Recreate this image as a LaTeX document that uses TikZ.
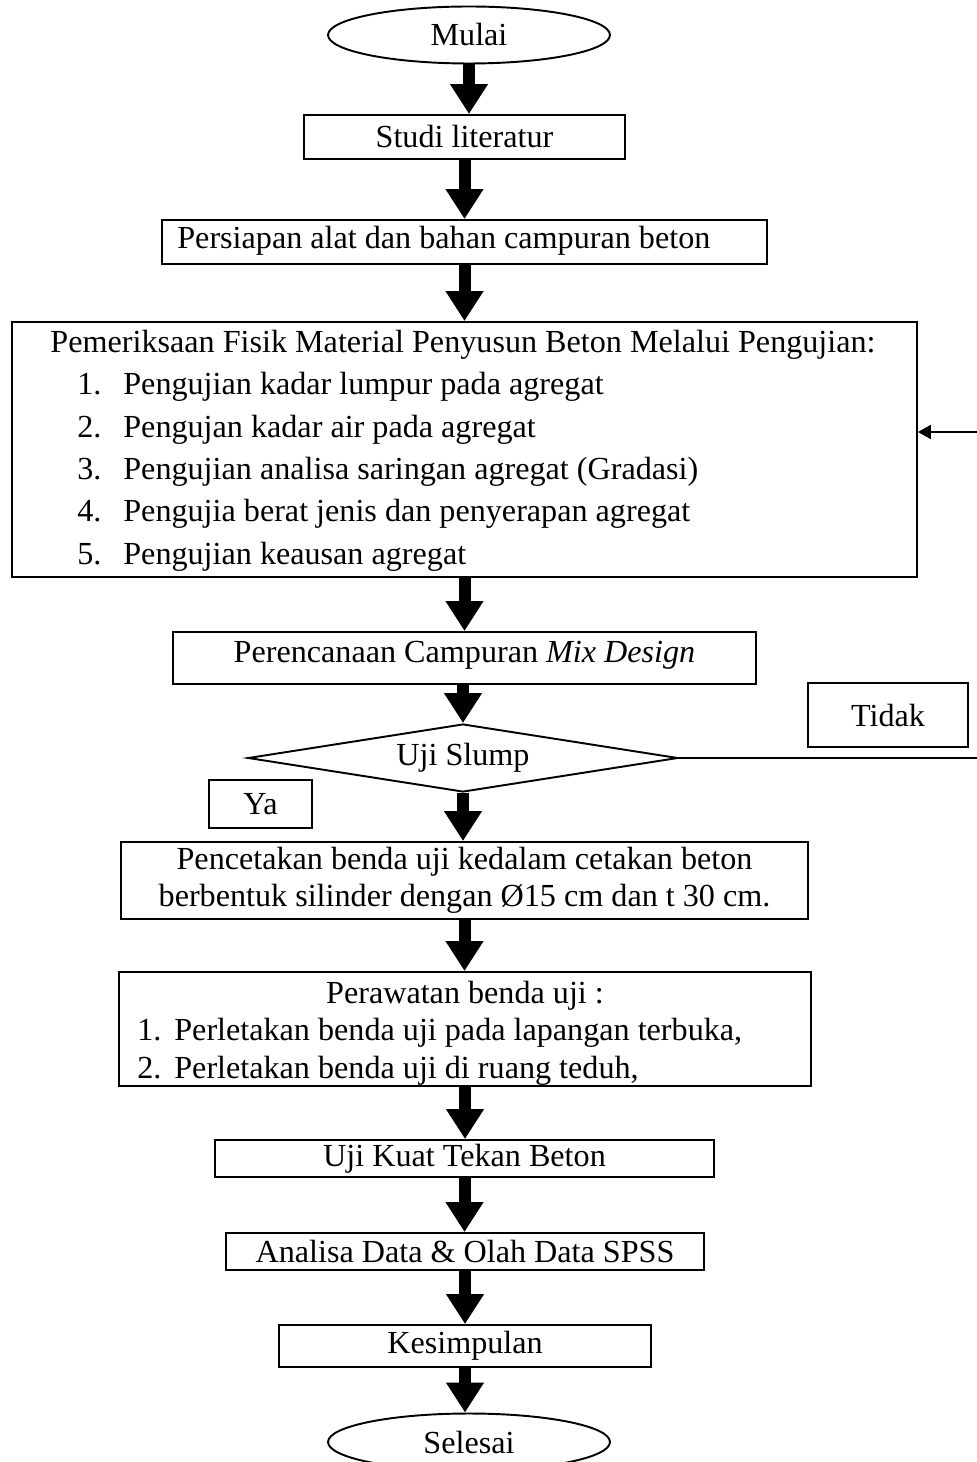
\documentclass[tikz,border=0pt]{standalone}
\usepackage{fontspec}
\setmainfont{Liberation Serif}
\usetikzlibrary{arrows.meta,shapes.geometric}

\tikzset{
	kotak/.style={draw, line width=1.1pt, inner sep=0pt},
	ujung/.style={draw, ellipse, line width=1.1pt, inner sep=0pt, minimum width=5.64cm, minimum height=1.14cm},
	putusan/.style={draw, diamond, line width=1.1pt, inner sep=0pt, aspect=6.3, minimum width=8.6cm, minimum height=1.36cm},
	panah/.style={line width=0.24cm, -{Triangle[length=0.6cm,width=0.72cm]}},
	garis/.style={line width=1.1pt},
	teks/.style={inner sep=0pt, anchor=base west},
	judul/.style={inner sep=0pt, anchor=base},
}

\begin{document}
\begin{tikzpicture}[x=0.02cm, y=-0.02cm, font=\fontsize{18.3}{21}\selectfont]
				\useasboundingbox (0,0) rectangle (976,1462);
				
				\node[ujung] (mulai) at (469,35) {Mulai};
				\node[kotak, minimum width=6.42cm, minimum height=0.88cm] (studi) at (464.5,137) {Studi literatur};
				
				\node[kotak, minimum width=12.1cm, minimum height=0.88cm] (persiapan) at (464.5,242) {};
				\node[teks] (persiapanteks) at (177,249) {Persiapan alat dan bahan campuran beton};
				
				% pemeriksaan material
				\node[kotak, minimum width=18.1cm, minimum height=5.1cm] (cek) at (464.5,449.5) {};
				\node[judul] (cekjudul) at (463,353) {Pemeriksaan Fisik Material Penyusun Beton Melalui Pengujian:};
				\foreach \isi [count=\i] in {Pengujian kadar lumpur pada agregat,
					Pengujan kadar air pada agregat,
					Pengujian analisa saringan agregat (Gradasi),
					Pengujia berat jenis dan penyerapan agregat,
					Pengujian keausan agregat}
				{
					\node[teks] (ceknomor\i) at (77,{395+42.3*(\i-1)}) {\i.};
					\node[teks] (cekisi\i) at (123,{395+42.3*(\i-1)}) {\isi};
				}
				
				\node[kotak, minimum width=11.66cm, minimum height=1.04cm] (rencana) at (464.5,658) {};
				\node[judul] (rencanateks) at (464.5,662) {Perencanaan Campuran \textit{Mix Design}};
				
				\node[putusan] (slump) at (463,758) {Uji Slump};
				\node[kotak, minimum width=3.2cm, minimum height=1.28cm] (tidak) at (888,715) {Tidak};
				\node[kotak, minimum width=2.06cm, minimum height=0.96cm] (ya) at (260.5,804) {Ya};
				
				\node[kotak, minimum width=13.74cm, minimum height=1.54cm, align=center] (cetak) at (464.5,880.5)
					{Pencetakan benda uji kedalam cetakan beton\\berbentuk silinder dengan Ø15 cm dan t 30 cm.};
				
				% perawatan
				\node[kotak, minimum width=13.84cm, minimum height=2.28cm] (rawat) at (465,1029) {};
				\node[judul] (rawatjudul) at (465,1003) {Perawatan benda uji :};
				\foreach \isi [count=\i] in {{Perletakan benda uji pada lapangan terbuka,},
					{Perletakan benda uji di ruang teduh,}}
				{
					\node[teks] (rawatnomor\i) at (137,{1040+38*(\i-1)}) {\i.};
					\node[teks] (rawatisi\i) at (174,{1040+38*(\i-1)}) {\isi};
				}
				
				\node[kotak, minimum width=9.98cm, minimum height=0.74cm] (tekan) at (464.5,1158.5) {Uji Kuat Tekan Beton};
				\node[kotak, minimum width=9.56cm, minimum height=0.74cm] (analisa) at (465,1251.5) {Analisa Data \& Olah Data SPSS};
				\node[kotak, minimum width=7.44cm, minimum height=0.84cm] (simpul) at (465,1346) {Kesimpulan};
				\node[ujung] (selesai) at (469,1442) {Selesai};
				
				% panah utama
				\draw[panah] (mulai.south) -- (mulai.south |- studi.north);
				\draw[panah] (studi.south) -- (studi.south |- persiapan.north);
				\draw[panah] (persiapan.south) -- (persiapan.south |- cek.north);
				\draw[panah] (cek.south) -- (cek.south |- rencana.north);
				\draw[panah] (rencana.south -| slump.north) -- (slump.north);
				\draw[panah] (slump.south) -- (slump.south |- cetak.north);
				\draw[panah] (cetak.south) -- (cetak.south |- rawat.north);
				\draw[panah] (rawat.south) -- (rawat.south |- tekan.north);
				\draw[panah] (tekan.south) -- (tekan.south |- analisa.north);
				\draw[panah] (analisa.south) -- (analisa.south |- simpul.north);
				\draw[panah] (simpul.south) -- (simpul.south |- selesai.north);
				
				% kembali jika tidak
				\coordinate (balik) at (990,432);
				\draw[garis, -{Triangle[length=0.26cm,width=0.28cm]}] (slump.east) -| (balik) -- (balik -| cek.east);
			\end{tikzpicture}
\end{document}
